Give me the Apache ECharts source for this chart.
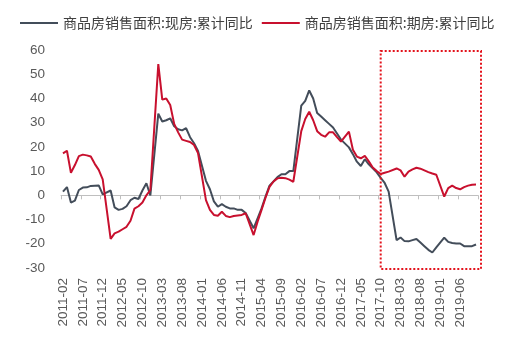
<!DOCTYPE html>
<html>
<head>
<meta charset="utf-8">
<script src="https://cdn.jsdelivr.net/npm/echarts@6/dist/echarts.min.js"></script>
<style>
  html, body { margin: 0; padding: 0; background: #ffffff; }
  #chart { width: 522px; height: 345px; }
</style>
</head>
<body>
<div id="chart"></div>
<script>
// Monthly categories, 2011-02 through 2019-10
const months = [];
for (let y = 2011, m = 2; y < 2019 || (y === 2019 && m <= 10);) {
  months.push(y + '-' + String(m).padStart(2, '0'));
  m++;
  if (m > 12) { m = 1; y++; }
}

const spotName = '商品房销售面积:现房:累计同比';
const presaleName = '商品房销售面积:期房:累计同比';

// Cumulative YoY, %. January is reported together with February, so January is null.
const spotYoY = [
  1.5, 3.4, -3, -2.2, 2.2, 3.2, 3.3, 3.9, 4, 4.1, 0.4,
  null, 2, -5, -6, -5.6, -4.5, -2, -1, -1.5, 2, 5, 0,
  null, 33.7, 30.5, 31, 31.8, 28.5, 27.3, 26.8, 27.7, 24, 21.5, 18.3,
  null, 6, 2.5, -2.5, -4.7, -3.6, -4.7, -5.4, -5.4, -6, -6, -7.3,
  null, -13.6, -9.5, -5.4, -0.5, 4, 5.7, 7.5, 8.7, 8.7, 10, 10,
  null, 37, 39, 43.3, 40, 34, 32.5, 31, 29.5, 28, 25.5, 23,
  null, 19.8, 17, 13.9, 12.1, 14.9, 12.8, 11.2, 9.5, 7.2, 5.1, 1.5,
  null, -18.5, -17.4, -18.9, -19, -18.5, -18, -19.5, -21, -22.5, -23.6, -21.5,
  null, -17.5, -19.2, -19.7, -19.9, -19.9, -21, -21, -21, -20.3
];
const presaleYoY = [
  17.3, 18.4, 9.3, 12.5, 16.2, 16.8, 16.5, 16, 13, 10.5, 6.6,
  null, -18, -15.7, -15, -14, -13, -10.5, -5.5, -4.5, -3, 0, 2.2,
  null, 54.2, 39.5, 40, 37.3, 29.5, 26, 23, 22.5, 22, 20.8, 17.4,
  null, -2, -6, -8.1, -8.4, -6.8, -8.5, -9, -8.5, -8.3, -8.1, -7.4,
  null, -16.4, -10.9, -6, -1, 3.5, 5.7, 7, 7.3, 7.1, 6.5, 5.6,
  null, 26.5, 31.5, 34.5, 31, 26.5, 25, 24.2, 26, 26, 24, 22.2,
  null, 26.3, 18.8, 16, 15.3, 16.3, 14, 11.5, 10, 8.8, 9.3, 9.8,
  null, 11.1, 10.3, 7.7, 9.8, 10.7, 11.4, 11, 10.3, 9.6, 9, 8.5,
  null, -0.5, 3, 4, 3, 2.5, 3.4, 4, 4.4, 4.5
];

// Value axis range and step
const yMin = -30, yMax = 60, yStep = 10;
// Highlighted period (dotted frame) starts here
const highlightStart = '2017-10';

const labelFont = 'Liberation Sans, Arial, sans-serif';
const cjkFont = 'Noto Sans CJK SC, sans-serif';
const axisGrey = '#BFBFBF';
const spotColor = '#434D5A';
const presaleColor = '#C8102E';

const chart = echarts.init(document.getElementById('chart'), null, { renderer: 'canvas' });

const option = {
  backgroundColor: '#ffffff',
  animation: false,
  legend: {
    left: 20,
    top: 16,
    padding: 0,
    itemGap: 9,
    itemWidth: 38,
    itemHeight: 2,
    icon: 'rect',
    textStyle: { fontFamily: cjkFont, fontSize: 14, color: '#404040', padding: [0, 0, 0, 0] },
    data: [spotName, presaleName]
  },
  grid: { left: 61, right: 44, top: 50, bottom: 77, containLabel: false },
  xAxis: [
    {
      // tick labels along the bottom edge
      type: 'category',
      data: months,
      boundaryGap: true,
      position: 'bottom',
      axisLine: { show: false, onZero: false },
      axisTick: { show: false },
      splitLine: { show: false },
      axisLabel: {
        interval: 4,
        rotate: 90,
        margin: 10,
        fontFamily: labelFont,
        fontSize: 13.5,
        color: '#595959'
      }
    },
    {
      // axis line and ticks sitting on the zero level
      type: 'category',
      data: months,
      boundaryGap: true,
      position: 'top',
      axisLine: { show: true, onZero: true, lineStyle: { color: axisGrey, width: 1 } },
      axisTick: { show: true, inside: true, length: 4, interval: 4, lineStyle: { color: axisGrey, width: 1 } },
      axisLabel: { show: false },
      splitLine: { show: false }
    }
  ],
  yAxis: {
    type: 'value',
    min: yMin,
    max: yMax,
    interval: yStep,
    axisLine: { show: false },
    axisTick: { show: false },
    splitLine: { show: false },
    axisLabel: { margin: 16, fontFamily: labelFont, fontSize: 13.5, color: '#595959' }
  },
  series: [
    {
      name: spotName,
      type: 'line',
      xAxisIndex: 0,
      data: spotYoY,
      symbol: 'none',
      connectNulls: true,
      lineStyle: { color: spotColor, width: 2 },
      itemStyle: { color: spotColor },
      z: 3
    },
    {
      name: presaleName,
      type: 'line',
      xAxisIndex: 0,
      data: presaleYoY,
      symbol: 'none',
      connectNulls: true,
      lineStyle: { color: presaleColor, width: 2 },
      itemStyle: { color: presaleColor },
      z: 4
    }
  ]
};

chart.setOption(option);

// Dotted frame around the most recent period, placed from the axis scales
const fx = chart.convertToPixel({ xAxisIndex: 0 }, highlightStart);
const fTop = chart.convertToPixel({ yAxisIndex: 0 }, yMax) + 1;
const fBottom = chart.convertToPixel({ yAxisIndex: 0 }, yMin) + 1;
const gridRight = chart.getWidth() - option.grid.right;
chart.setOption({
  graphic: [{
    type: 'rect',
    z: 10,
    shape: { x: fx, y: fTop, width: gridRight + 3 - fx, height: fBottom - fTop },
    style: { fill: 'none', stroke: '#E3121B', lineWidth: 2, lineDash: [2, 2] }
  }]
});
</script>
</body>
</html>
